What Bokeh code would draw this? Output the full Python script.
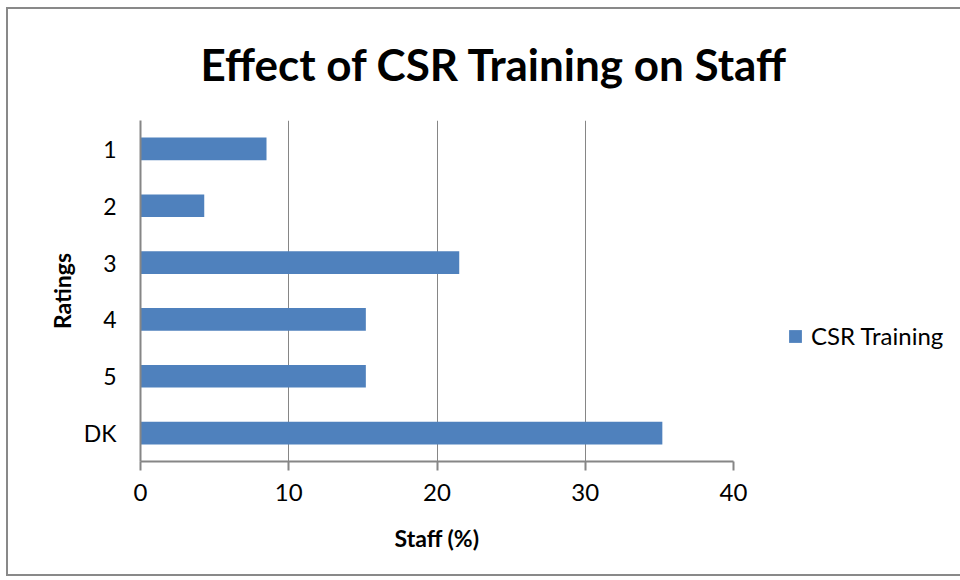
from bokeh.plotting import figure
from bokeh.models import Range1d, FactorRange, Legend, LegendItem, FixedTicker, ColumnDataSource
from bokeh.embed import file_html
from bokeh.resources import INLINE

categories = ["1", "2", "3", "4", "5", "DK"]
values = [8.5, 4.3, 21.5, 15.2, 15.2, 35.2]
x_ticks = [0, 10, 20, 30, 40]
series_name = "CSR Training"

FONT = "Lato"
AXIS_COLOR = "#868686"

src = ColumnDataSource(dict(cat=categories, val=values))

p = figure(frame_width=593, frame_height=341, output_backend="svg", toolbar_location=None,
           y_range=FactorRange(*reversed(categories)), x_range=Range1d(0, 40),
           min_border_left=132, min_border_right=223, min_border_top=111,
           min_border_bottom=113, background_fill_color="white",
           border_fill_color="white")
p.styles = {"border": "2px solid #898989", "margin-left": "6px", "margin-top": "7px"}
p.outline_line_color = None

r = p.hbar(y="cat", right="val", left=0, height=0.4, source=src,
           fill_color="#4F81BD", line_color=None)

p.title.text = "Effect of CSR Training on Staff"
p.title.text_font = FONT
p.title.text_font_style = "bold"
p.title.text_font_size = "44px"
p.title.align = "left"
p.title.vertical_align = "bottom"
p.title.offset = 60
p.title.standoff = 30
p.title.padding = dict(left=0, right=0, top=0, bottom=16)
p.title.text_color = "#000000"

xa = p.xaxis[0]
xa.ticker = FixedTicker(ticks=x_ticks)
xa.axis_label = "Staff (%)"
xa.axis_label_text_font = FONT
xa.axis_label_text_font_style = "bold"
xa.axis_label_text_font_size = "23px"
xa.axis_label_text_color = "#000000"
xa.axis_label_standoff = 20
xa.major_label_text_font = FONT
xa.major_label_text_font_size = "24px"
xa.major_label_text_color = "#000000"
xa.major_label_standoff = 13
xa.axis_line_color = AXIS_COLOR
xa.axis_line_width = 2
xa.major_tick_line_color = AXIS_COLOR
xa.major_tick_line_width = 2
xa.major_tick_out = 9
xa.major_tick_in = 0
xa.minor_tick_line_color = None

ya = p.yaxis[0]
ya.axis_label = "Ratings"
ya.axis_label_text_font = FONT
ya.axis_label_text_font_style = "bold"
ya.axis_label_text_font_size = "23px"
ya.axis_label_text_color = "#000000"
ya.axis_label_standoff = 5
ya.major_label_text_font = FONT
ya.major_label_text_font_size = "23px"
ya.major_label_text_color = "#000000"
ya.major_label_standoff = 18
ya.axis_line_color = AXIS_COLOR
ya.axis_line_width = 2
ya.major_tick_line_color = None
ya.minor_tick_line_color = None

p.ygrid.grid_line_color = None
p.xgrid.grid_line_color = AXIS_COLOR
p.xgrid.grid_line_width = 1

legend = Legend(items=[LegendItem(label=series_name, renderers=[r])],
                location=(54, 111), label_text_font=FONT,
                label_text_font_size="24px", label_text_color="#000000",
                glyph_width=16, glyph_height=16,
                margin=0, padding=0, border_line_color=None,
                label_standoff=8, background_fill_alpha=0)
p.add_layout(legend, "right")

open("out.html", "w").write(file_html(p, INLINE))
